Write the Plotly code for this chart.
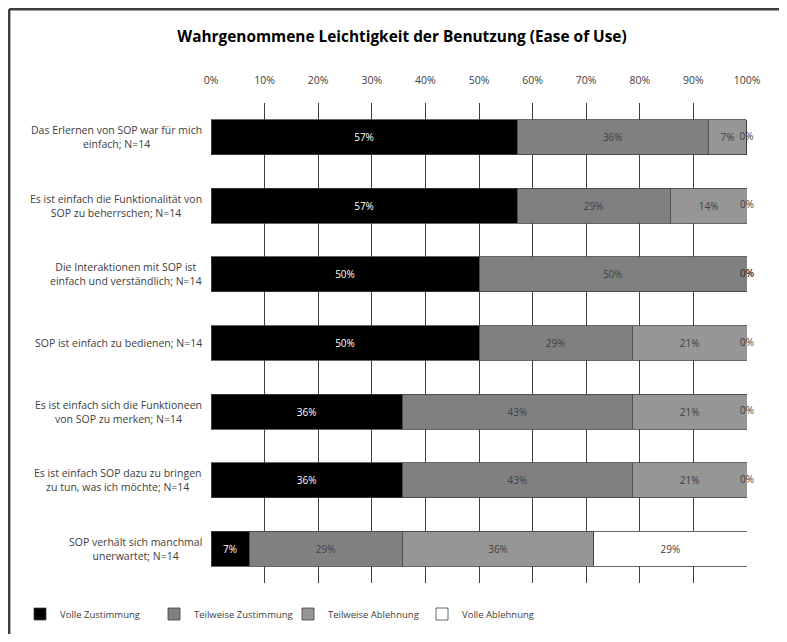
import plotly.graph_objects as go

# ---- data ----
categories = [
    "Das Erlernen von SOP war für mich<br>einfach; N=14",
    "Es ist einfach die Funktionalität von<br>SOP zu beherrschen; N=14",
    "Die Interaktionen mit SOP ist<br>einfach und verständlich; N=14",
    "SOP ist einfach zu bedienen; N=14",
    "Es ist einfach sich die Funktioneen<br>von SOP zu merken; N=14",
    "Es ist einfach SOP dazu zu bringen<br>zu tun, was ich möchte; N=14",
    "SOP verhält sich manchmal<br>unerwartet; N=14",
]
series_names = ["Volle Zustimmung", "Teilweise Zustimmung", "Teilweise Ablehnung", "Volle Ablehnung"]
volle_zustimmung = [57.1, 57.1, 50.0, 50.0, 35.7, 35.7, 7.1]
teilweise_zustimmung = [35.7, 28.6, 50.0, 28.6, 42.9, 42.9, 28.6]
teilweise_ablehnung = [7.1, 14.3, 0.0, 21.4, 21.4, 21.4, 35.7]
volle_ablehnung = [0.0, 0.0, 0.0, 0.0, 0.0, 0.0, 28.6]
tick_vals = [0, 10, 20, 30, 40, 50, 60, 70, 80, 90, 100]
tick_text = ["0%", "10%", "20%", "30%", "40%", "50%", "60%", "70%", "80%", "90%", "100%"]
title_text = "Wahrgenommene Leichtigkeit der Benutzung (Ease of Use)"

series_values = [volle_zustimmung, teilweise_zustimmung, teilweise_ablehnung, volle_ablehnung]
fills = ["#000000", "#808080", "#969696", "#ffffff"]
text_colors = ["#ffffff", "#404040", "#404040", "#404040"]
FONT = "Open Sans, Noto Sans, sans-serif"

fig = go.Figure()
for name, vals, fc, tc in zip(series_names, series_values, fills, text_colors):
    fig.add_trace(go.Bar(
        y=categories, x=vals, name=name, orientation="h",
        marker=dict(color=fc, line=dict(color="#404040", width=0.8)),
        text=[f"{v:.0f}%" if v > 0 else "" for v in vals],
        textposition="inside", insidetextanchor="middle",
        textfont=dict(color=tc, size=10, family=FONT),
        hoverinfo="skip",
    ))

# labels for zero-valued segments (drawn at the segment position)
zx, zy = [], []
cum = [0.0] * len(categories)
for vals in series_values:
    for i, v in enumerate(vals):
        if v == 0:
            zx.append(cum[i] + v)
            zy.append(categories[i])
        cum[i] += v
fig.add_trace(go.Scatter(
    x=zx, y=zy, mode="text", text=["0%"] * len(zx), showlegend=False,
    textfont=dict(color="#404040", size=10, family=FONT), cliponaxis=False,
    hoverinfo="skip",
))

# category labels, centered lines
for c in categories:
    fig.add_annotation(
        x=0, xref="paper", y=c, yref="y", xanchor="right", yanchor="middle",
        xshift=-7, align="center", showarrow=False, text=c,
        font=dict(size=10.5, color="#404040", family=FONT),
    )

# page has an 8px body margin -> figure coordinates = page coordinates - 8
OFF = 8
W, H = 787 - 2 * OFF, 642 - 2 * OFF
L = 211 - OFF
T = 103 - OFF
R = W - (747 - OFF)
B = H - (583 - OFF)
pw, ph = W - L - R, H - T - B
def px(x):
    return (x - OFF - L) / pw
def py(y):
    return (H - B - (y - OFF)) / ph

# outer frame (top and left edges visible in the reference)
fig.add_shape(type="line", xref="paper", yref="paper",
              x0=px(9.2), x1=px(OFF + W), y0=py(9.2), y1=py(9.2),
              line=dict(color="#404040", width=2.5), layer="above")
fig.add_shape(type="line", xref="paper", yref="paper",
              x0=px(9.2), x1=px(9.2), y0=py(9.2), y1=py(OFF + H),
              line=dict(color="#404040", width=2.5), layer="above")

fig.update_layout(
    width=W, height=H,
    margin=dict(l=L, r=R, t=T, b=B, autoexpand=False),
    paper_bgcolor="white", plot_bgcolor="white",
    barmode="stack", bargap=0.49,
    uniformtext=dict(minsize=10, mode="show"),
    title=dict(text=title_text, x=(402 - OFF) / W, xref="container", xanchor="center",
               y=1 - (37 - OFF) / H, yref="container", yanchor="middle",
               font=dict(size=15.4, color="#000000", family=FONT, weight="bold")),
    font=dict(family=FONT, color="#404040"),
    xaxis=dict(range=[0, 100], side="top", tickvals=tick_vals, ticktext=tick_text,
               showgrid=True, gridcolor="#404040", gridwidth=1,
               zeroline=False, showline=False, ticks="",
               tickfont=dict(size=10.5, color="#404040", family=FONT),
               ticklabelstandoff=16, fixedrange=True, automargin=False),
    yaxis=dict(autorange="reversed", showticklabels=False, showgrid=False,
               zeroline=False, showline=False, ticks="", fixedrange=True, automargin=False),
    legend=dict(orientation="h", xref="container", yref="container",
                x=(20 - OFF) / W, xanchor="left", y=1 - (614 - OFF) / H, yanchor="middle",
                font=dict(size=9.5, color="#404040", family=FONT),
                entrywidth=89, entrywidthmode="pixels", itemwidth=30,
                traceorder="normal", bgcolor="rgba(0,0,0,0)"),
    showlegend=True,
)

fig.write_html("out.html")
